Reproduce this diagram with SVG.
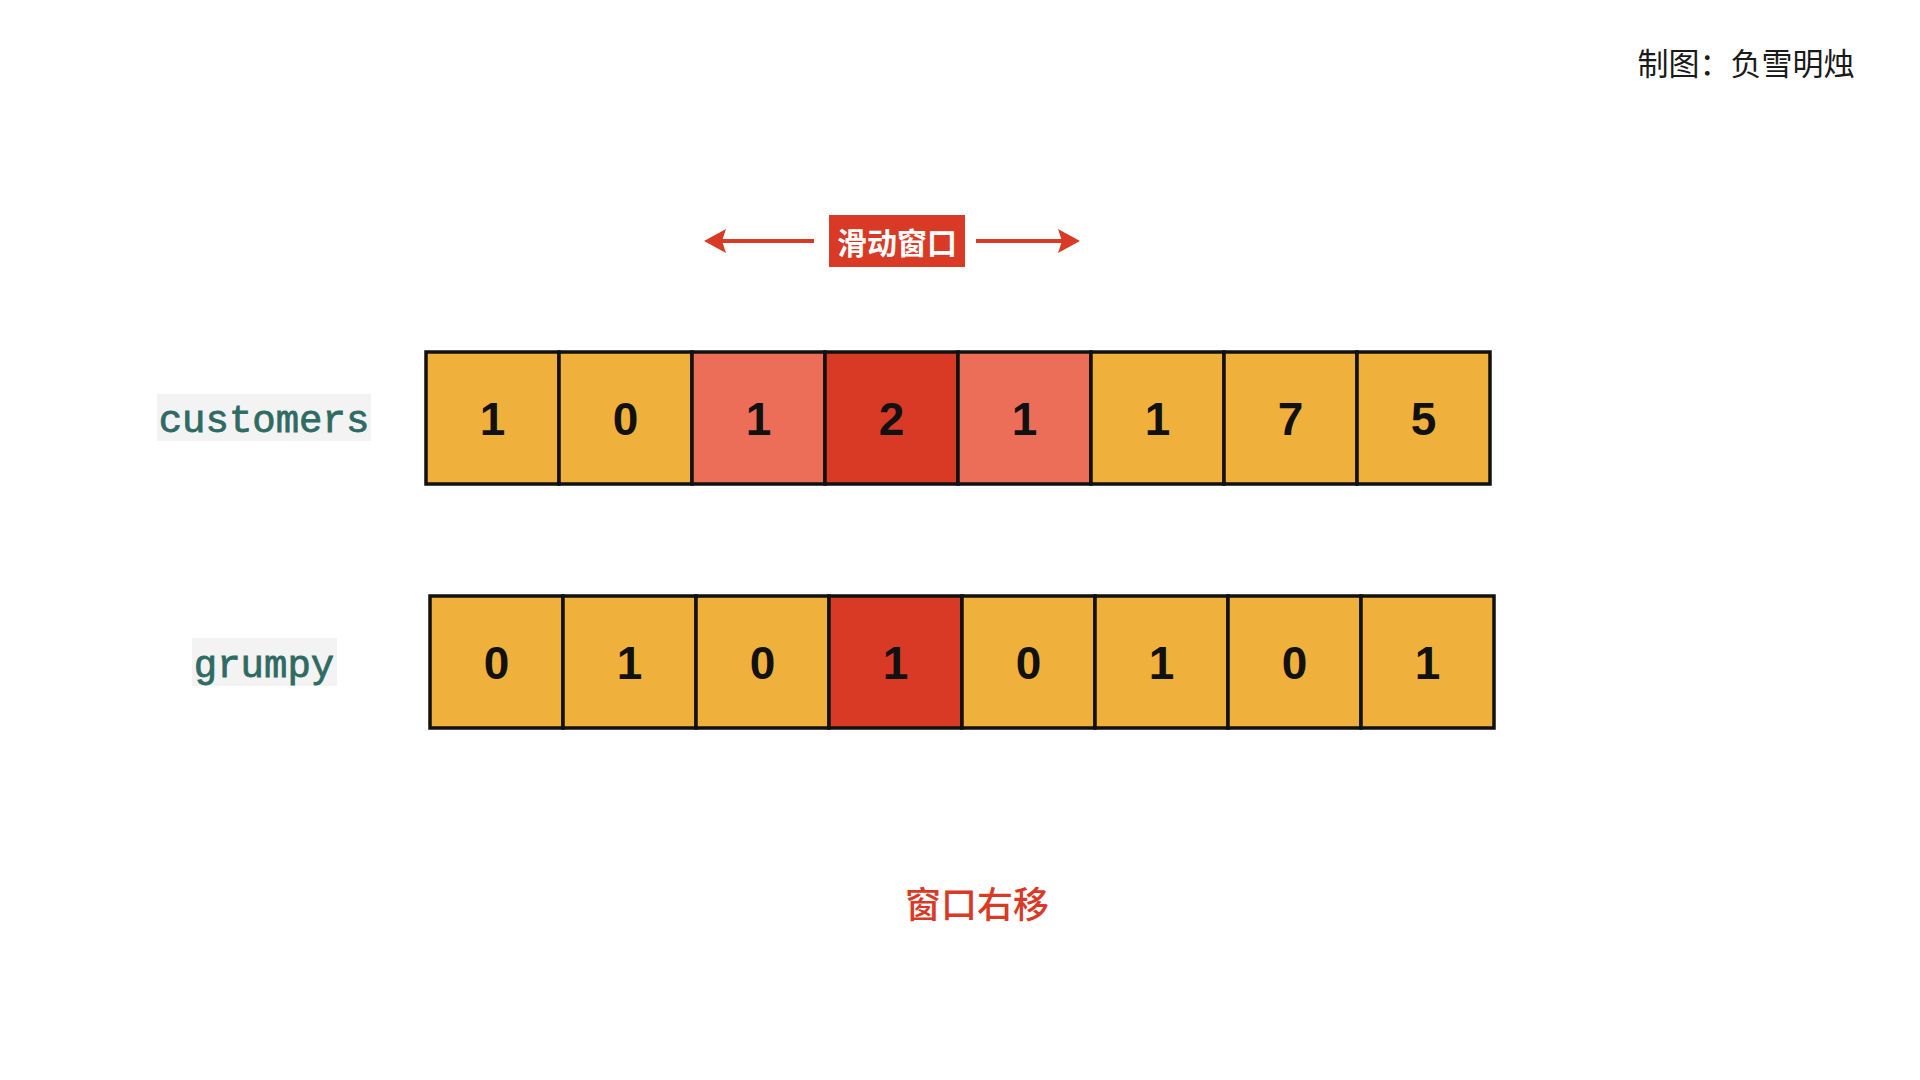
<svg xmlns="http://www.w3.org/2000/svg" width="1920" height="1080" viewBox="0 0 1920 1080">
<style>
.o{fill:#F0B03C}
.l{fill:#EC6E58}
.d{fill:#D93A26}
.c{stroke:#111;stroke-width:3.5}
.n{font-family:"Liberation Sans",Arial,sans-serif;font-weight:bold;font-size:46px;fill:#111;text-anchor:middle;dominant-baseline:central}
.lab{font-family:"Courier New","Liberation Mono",monospace;font-size:39px;fill:#2E6B63;text-anchor:middle;dominant-baseline:central;stroke:#2E6B63;stroke-width:0.8}
.cjk{font-family:"Noto Sans CJK SC","Noto Sans",sans-serif;text-anchor:middle;dominant-baseline:central}
</style>
<rect width="1920" height="1080" fill="#fff"/>
<text class="cjk" x="1746" y="61" font-size="31" fill="#1a1a1a">制图：负雪明烛</text>

<g id="window-label">
<rect x="829" y="215" width="136" height="52" fill="#D93A26"/>
<text class="cjk" x="897" y="241" font-size="30" font-weight="bold" fill="#fff">滑动窗口</text>
</g>
<g id="connectors">
<line x1="814" y1="241" x2="716" y2="241" stroke="#D93A26" stroke-width="4"/>
<path d="M704,241 L726,229 L722,241 L726,253 Z" fill="#D93A26"/>
<line x1="976" y1="241" x2="1068" y2="241" stroke="#D93A26" stroke-width="4"/>
<path d="M1080,241 L1058,229 L1062,241 L1058,253 Z" fill="#D93A26"/>
</g>

<g id="label-customers">
<rect x="157" y="394" width="214" height="47" fill="#F3F3F3"/>
<text class="lab" x="264" y="422">customers</text>
</g>
<g id="label-grumpy">
<rect x="192" y="638" width="145" height="48" fill="#F3F3F3"/>
<text class="lab" x="264" y="667">grumpy</text>
</g>

<g id="customers">
<rect class="o c" x="426" y="352" width="133" height="132"/><text class="n" x="492.5" y="419">1</text>
<rect class="o c" x="559" y="352" width="133" height="132"/><text class="n" x="625.5" y="419">0</text>
<rect class="l c" x="692" y="352" width="133" height="132"/><text class="n" x="758.5" y="419">1</text>
<rect class="d c" x="825" y="352" width="133" height="132"/><text class="n" x="891.5" y="419">2</text>
<rect class="l c" x="958" y="352" width="133" height="132"/><text class="n" x="1024.5" y="419">1</text>
<rect class="o c" x="1091" y="352" width="133" height="132"/><text class="n" x="1157.5" y="419">1</text>
<rect class="o c" x="1224" y="352" width="133" height="132"/><text class="n" x="1290.5" y="419">7</text>
<rect class="o c" x="1357" y="352" width="133" height="132"/><text class="n" x="1423.5" y="419">5</text>
</g>

<g id="grumpy">
<rect class="o c" x="430" y="596" width="133" height="132"/><text class="n" x="496.5" y="663">0</text>
<rect class="o c" x="563" y="596" width="133" height="132"/><text class="n" x="629.5" y="663">1</text>
<rect class="o c" x="696" y="596" width="133" height="132"/><text class="n" x="762.5" y="663">0</text>
<rect class="d c" x="829" y="596" width="133" height="132"/><text class="n" x="895.5" y="663">1</text>
<rect class="o c" x="962" y="596" width="133" height="132"/><text class="n" x="1028.5" y="663">0</text>
<rect class="o c" x="1095" y="596" width="133" height="132"/><text class="n" x="1161.5" y="663">1</text>
<rect class="o c" x="1228" y="596" width="133" height="132"/><text class="n" x="1294.5" y="663">0</text>
<rect class="o c" x="1361" y="596" width="133" height="132"/><text class="n" x="1427.5" y="663">1</text>
</g>

<text class="cjk" x="977" y="902" font-size="36" font-weight="500" fill="#D93A26">窗口右移</text>
</svg>
